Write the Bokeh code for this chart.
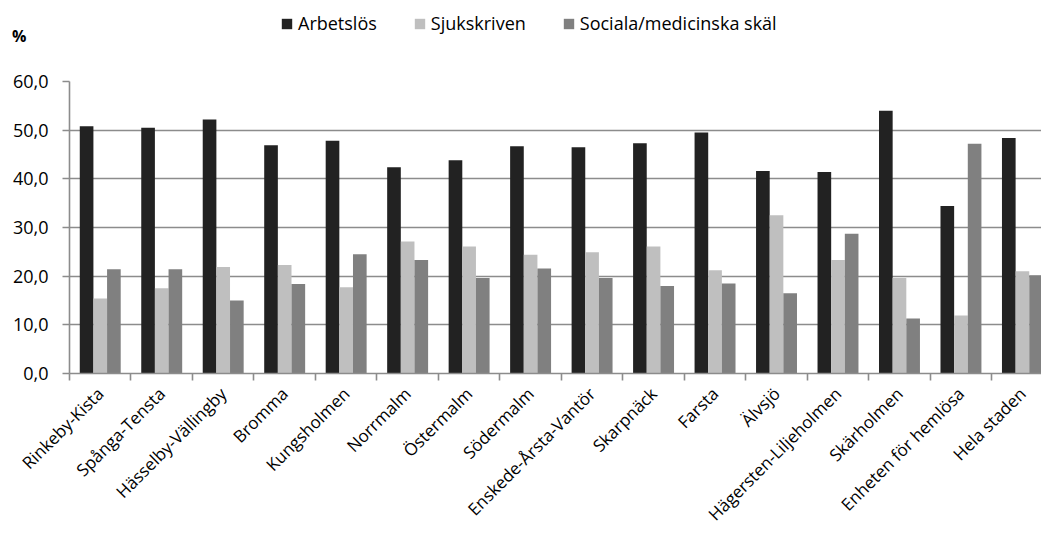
import math
from bokeh.plotting import figure
from bokeh.layouts import column
from bokeh.models import ColumnDataSource, FixedTicker, Range1d, Legend, LegendItem
from bokeh.transform import dodge
from bokeh.embed import file_html
from bokeh.resources import INLINE

categories = ["Rinkeby-Kista", "Spånga-Tensta", "Hässelby-Vällingby", "Bromma", "Kungsholmen",
              "Norrmalm", "Östermalm", "Södermalm", "Enskede-Årsta-Vantör", "Skarpnäck",
              "Farsta", "Älvsjö", "Hägersten-Liljeholmen", "Skärholmen", "Enheten för hemlösa",
              "Hela staden"]
arbetslos = [50.8, 50.5, 52.2, 46.9, 47.8, 42.4, 43.8, 46.7, 46.5, 47.3, 49.5, 41.6, 41.4, 54.0, 34.4, 48.4]
sjukskriven = [15.4, 17.5, 21.9, 22.3, 17.7, 27.1, 26.1, 24.4, 24.9, 26.1, 21.2, 32.5, 23.3, 19.6, 11.9, 21.0]
sociala = [21.4, 21.4, 15.0, 18.4, 24.5, 23.3, 19.6, 21.6, 19.6, 18.0, 18.5, 16.5, 28.7, 11.3, 47.2, 20.2]
series_names = ["Arbetslös", "Sjukskriven", "Sociala/medicinska skäl"]
series_colors = ["#222222", "#bfbfbf", "#808080"]
y_ticks = [0, 10, 20, 30, 40, 50, 60]
unit_label = "%"

positions = list(range(1, len(categories) + 1))
source = ColumnDataSource(dict(x=positions, a=arbetslos, s=sjukskriven, m=sociala))
cols = ["a", "s", "m"]

FONT = "Open Sans"
GRAY = "#8c8c8c"
W = 1041

# ---- header strip: legend and unit label ----
head = figure(width=W, height=60, output_backend="svg", toolbar_location=None,
              x_range=Range1d(0, 1), y_range=Range1d(0, 1),
              min_border_left=69, min_border_right=0, min_border_top=10, min_border_bottom=0)
head.xaxis.visible = False
head.grid.visible = False
head.outline_line_color = None
hy = head.yaxis[0]
hy.ticker = FixedTicker(ticks=[])
hy.axis_line_color = None
hy.major_tick_line_color = None
hy.minor_tick_line_color = None
hy.axis_label = unit_label
hy.axis_label_orientation = "horizontal"
hy.axis_label_standoff = 43
hy.axis_label_text_font = FONT
hy.axis_label_text_font_size = "16px"
hy.axis_label_text_font_style = "bold"
hy.axis_label_text_color = "#000000"

# legend renderers share the chart data but are not drawn in the header
hr = [head.vbar(x="x", top=col, width=0.2, source=source, fill_color=c, line_color=None,
                visible=False)
      for col, c in zip(cols, series_colors)]
legend = Legend(items=[LegendItem(label=n, renderers=[r]) for n, r in zip(series_names, hr)],
                location=(211, 25), orientation="horizontal",
                padding=0, margin=0, spacing=36, label_standoff=5,
                glyph_width=13, glyph_height=13,
                border_line_color=None, background_fill_alpha=0,
                label_text_font=FONT, label_text_font_size="18px", label_text_color="#000000")
head.add_layout(legend, "center")

# ---- main chart ----
p = figure(width=W, height=476, output_backend="svg", toolbar_location=None,
           x_range=Range1d(0.5, 16.31), y_range=Range1d(0, 60),
           min_border_left=69, min_border_right=0, min_border_top=21, min_border_bottom=162)
p.outline_line_color = None

w = 0.222
for k, (col, c) in enumerate(zip(cols, series_colors)):
    p.vbar(x=dodge("x", (k - 1) * w, range=p.x_range), top=col, width=w, source=source,
           fill_color=c, line_color=None)

p.xgrid.grid_line_color = None
p.ygrid.grid_line_color = GRAY
p.ygrid.grid_line_width = 1.6

p.yaxis.ticker = FixedTicker(ticks=y_ticks)
p.yaxis.major_label_overrides = {t: f"{t},0" for t in y_ticks}
p.yaxis.major_tick_out = 7
p.yaxis.major_tick_in = 0
p.yaxis.minor_tick_line_color = None
p.yaxis.axis_line_color = GRAY
p.yaxis.axis_line_width = 1.6
p.yaxis.major_tick_line_color = GRAY
p.yaxis.major_tick_line_width = 1.6
p.yaxis.major_label_text_font = FONT
p.yaxis.major_label_text_font_size = "18px"
p.yaxis.major_label_text_color = "#000000"
p.yaxis.major_label_standoff = 14

bounds = [i + 0.5 for i in range(0, len(categories) + 1)]
p.xaxis.ticker = FixedTicker(ticks=positions, minor_ticks=bounds)
p.xaxis.major_label_overrides = {pos: c for pos, c in zip(positions, categories)}
p.xaxis.major_label_orientation = math.pi / 4
p.xaxis.major_tick_out = 0
p.xaxis.major_tick_in = 0
p.xaxis.major_tick_line_color = None
p.xaxis.minor_tick_out = 7
p.xaxis.minor_tick_in = 0
p.xaxis.minor_tick_line_color = GRAY
p.xaxis.minor_tick_line_width = 1.6
p.xaxis.axis_line_color = GRAY
p.xaxis.axis_line_width = 1.6
p.xaxis.major_label_text_font = FONT
p.xaxis.major_label_text_font_size = "17px"
p.xaxis.major_label_text_color = "#000000"
p.xaxis.major_label_standoff = 10

layout = column(head, p, spacing=0)
open("out.html", "w").write(file_html(layout, INLINE))
